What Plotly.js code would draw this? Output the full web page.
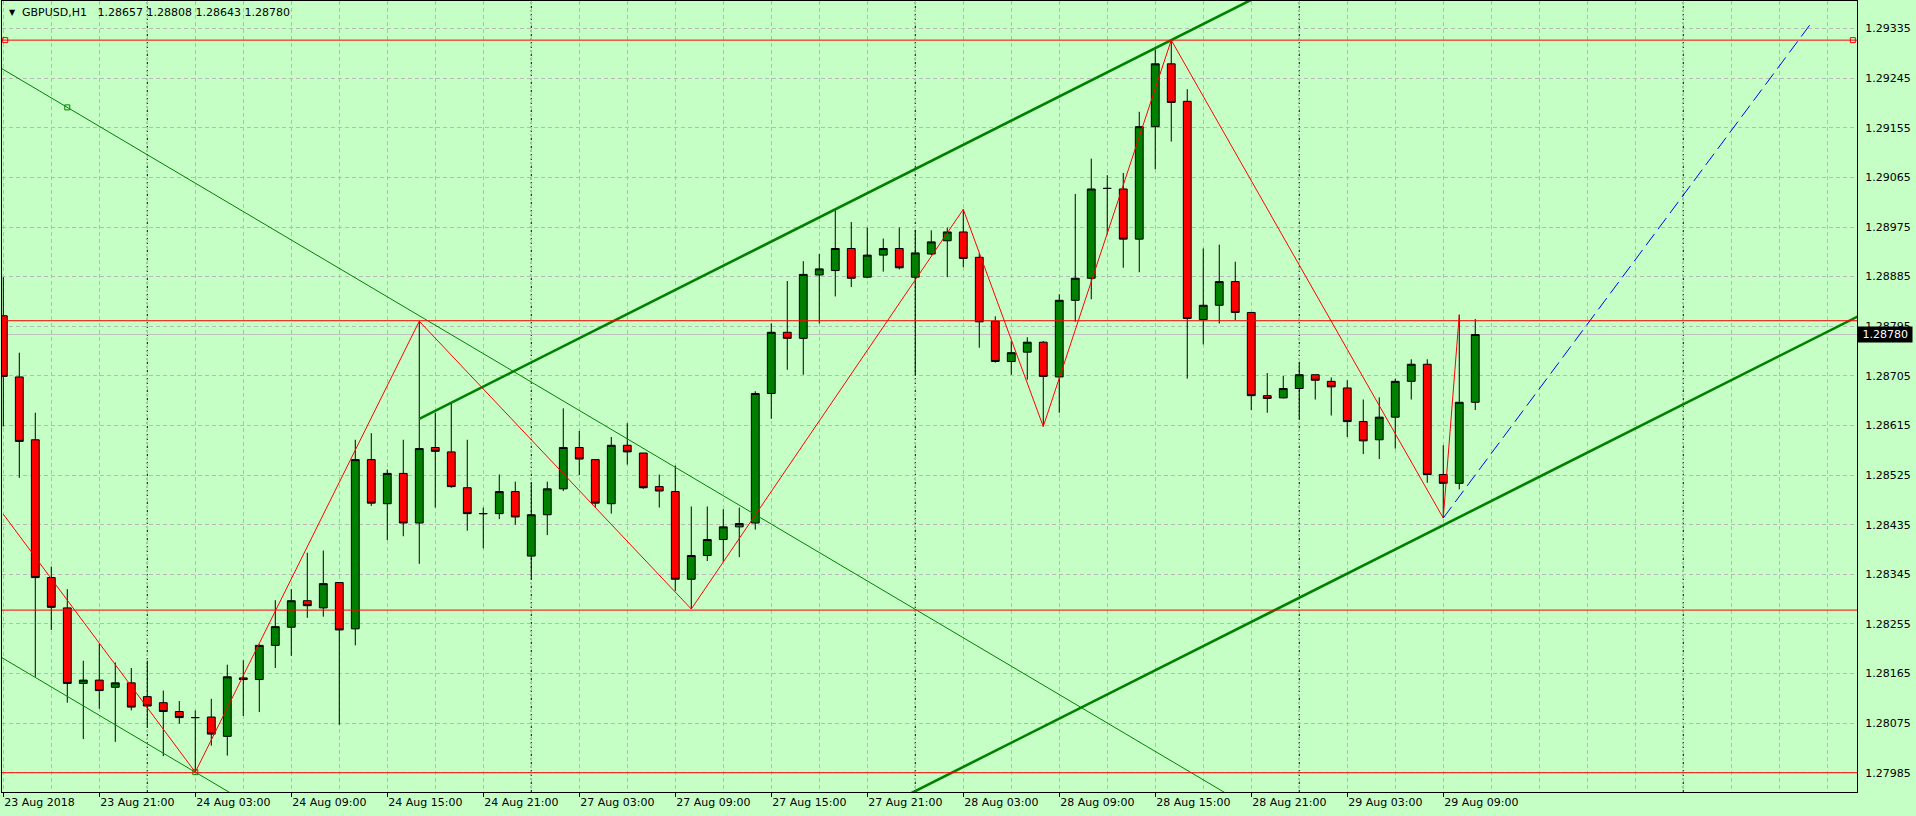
<!DOCTYPE html>
<html>
<head>
<meta charset="utf-8">
<script src="https://cdn.plot.ly/plotly-3.0.1.min.js"></script>
<style>
html,body{margin:0;padding:0;background:#c6ffc6;}
#chart{width:1916px;height:816px;}
</style>
</head>
<body>
<div id="chart"></div>
<script>
// ---- GBPUSD H1 candles (23 Aug 15:00 .. 29 Aug 11:00) ----
const openP = [
1.28814,1.28703,1.28589,1.28339,1.28284,1.28147,1.28153,1.28140,1.28148,1.28123,
1.28112,1.28096,1.28085,1.28086,1.28051,1.28157,1.28154,1.28216,1.28249,1.28297,
1.28284,1.28330,1.28246,1.28553,1.28473,1.28528,1.28438,1.28575,1.28567,1.28502,
1.28455,1.28455,1.28495,1.28378,1.28453,1.28500,1.28575,1.28553,1.28473,1.28579,
1.28565,1.28504,1.28495,1.28336,1.28379,1.28408,1.28431,1.28438,1.28673,1.28784,
1.28773,1.28888,1.28896,1.28936,1.28884,1.28924,1.28936,1.28884,1.28926,1.28950,
1.28966,1.28920,1.28804,1.28731,1.28748,1.28766,1.28703,1.28842,1.28882,1.29045,
1.29044,1.28953,1.29157,1.29271,1.29203,1.28807,1.28833,1.28876,1.28820,1.28669,
1.28665,1.28682,1.28707,1.28695,1.28683,1.28622,1.28589,1.28630,1.28695,1.28726,
1.28526,1.28510,1.28657];
const highP = [
1.28884,1.28747,1.28638,1.28359,1.28318,1.28188,1.28219,1.28185,1.28175,1.28188,
1.28134,1.28115,1.28098,1.28119,1.28181,1.28189,1.28218,1.28298,1.28318,1.28384,
1.28388,1.28330,1.28589,1.28601,1.28535,1.28589,1.28804,1.28638,1.28655,1.28589,
1.28466,1.28526,1.28513,1.28511,1.28513,1.28646,1.28605,1.28553,1.28594,1.28619,
1.28565,1.28526,1.28542,1.28468,1.28468,1.28463,1.28466,1.28677,1.28800,1.28877,
1.28913,1.28926,1.29006,1.28984,1.28974,1.28954,1.28974,1.28970,1.28969,1.28974,
1.29007,1.28928,1.28813,1.28768,1.28775,1.28768,1.28853,1.29035,1.29099,1.29069,
1.29073,1.29184,1.29297,1.29314,1.29225,1.28936,1.28943,1.28912,1.28820,1.28710,
1.28705,1.28729,1.28707,1.28702,1.28697,1.28662,1.28666,1.28700,1.28735,1.28735,
1.28579,1.28816,1.28808];
const lowP = [
1.28613,1.28520,1.28159,1.28244,1.28112,1.28046,1.28101,1.28041,1.28098,1.28069,
1.28015,1.28074,1.27986,1.28034,1.28016,1.28088,1.28095,1.28175,1.28197,1.28266,
1.28268,1.28072,1.28216,1.28469,1.28407,1.28414,1.28364,1.28466,1.28502,1.28424,
1.28392,1.28445,1.28435,1.28336,1.28416,1.28496,1.28525,1.28466,1.28455,1.28544,
1.28500,1.28466,1.28315,1.28282,1.28369,1.28367,1.28376,1.28426,1.28627,1.28716,
1.28707,1.28800,1.28849,1.28866,1.28882,1.28894,1.28898,1.28705,1.28924,1.28884,
1.28902,1.28756,1.28729,1.28707,1.28698,1.28613,1.28638,1.28803,1.28844,1.28962,
1.28901,1.28893,1.29080,1.29130,1.28700,1.28762,1.28800,1.28806,1.28643,1.28638,
1.28664,1.28627,1.28662,1.28633,1.28594,1.28563,1.28554,1.28573,1.28662,1.28511,
1.28447,1.28499,1.28643];
const closeP = [
1.28704,1.28586,1.28339,1.28285,1.28147,1.28153,1.28134,1.28148,1.28104,1.28106,
1.28096,1.28085,1.28085,1.28055,1.28159,1.28154,1.28216,1.28250,1.28297,1.28288,
1.28328,1.28244,1.28553,1.28474,1.28528,1.28438,1.28573,1.28568,1.28504,1.28455,
1.28455,1.28495,1.28449,1.28453,1.28500,1.28575,1.28554,1.28474,1.28579,1.28567,
1.28502,1.28496,1.28336,1.28379,1.28408,1.28431,1.28437,1.28673,1.28784,1.28773,
1.28889,1.28899,1.28936,1.28882,1.28924,1.28936,1.28901,1.28928,1.28948,1.28966,
1.28918,1.28803,1.28731,1.28747,1.28766,1.28704,1.28842,1.28882,1.29044,1.29045,
1.28953,1.29157,1.29271,1.29201,1.28809,1.28833,1.28876,1.28820,1.28669,1.28664,
1.28682,1.28707,1.28697,1.28685,1.28622,1.28587,1.28630,1.28695,1.28726,1.28526,
1.28510,1.28657,1.28780];

// time axis (bar index -> label)
const tickIdx = [0,6,12,18,24,30,36,42,48,54,60,66,72,78,84,90];
const tickText = ["23 Aug 2018","23 Aug 21:00","24 Aug 03:00","24 Aug 09:00","24 Aug 15:00",
  "24 Aug 21:00","27 Aug 03:00","27 Aug 09:00","27 Aug 15:00","27 Aug 21:00","28 Aug 03:00",
  "28 Aug 09:00","28 Aug 15:00","28 Aug 21:00","29 Aug 03:00","29 Aug 09:00"];
const daySeparators = [9,33,57,81,105];
const priceTicks = [1.27985,1.28075,1.28165,1.28255,1.28345,1.28435,1.28525,1.28615,
  1.28705,1.28795,1.28885,1.28975,1.29065,1.29155,1.29245,1.29335];

// drawn objects
const redLevels = [1.29314,1.28805,1.28280,1.27985];
const bidPrice = 1.28780;
const zigX = [0,12,26,43,60,65,73,90,91];
const zigY = [1.28454,1.27986,1.28804,1.28282,1.29007,1.28613,1.29314,1.28447,1.28816];
const thinChanA = [4,1.29192], thinChanB = [26,1.28814], thinChanLow = [12,1.27986];
const thickChanA = [26,1.28627], thickChanB = [73,1.29314], thickChanLow = [90,1.28434];
const blueX = [90,113], blueY = [1.28447,1.29345];

const xRange = [-0.081, 115.86];
const yRange = [1.27950, 1.29385];

const N = openP.length;
const barIdx = Array.from({length:N}, (_, i) => i);

function slopeOf(a, b){ return (b[1]-a[1])/(b[0]-a[0]); }
function ray(p, s, xa, xb){ return {x:[xa,xb], y:[p[1]+s*(xa-p[0]), p[1]+s*(xb-p[0])]}; }

const sThin = slopeOf(thinChanA, thinChanB);
const sThick = slopeOf(thickChanA, thickChanB);
const lThinUp = ray(thinChanA, sThin, -2, 130);
const lThinLo = ray(thinChanLow, sThin, -2, 130);
const lThickUp = ray(thickChanA, sThick, thickChanA[0], 130);
const lThickLo = ray(thickChanLow, sThick, -2, 130);

const GREEN = '#008000', RED = '#ff0000';
const BG = '#c6ffc6';
const GRID = '#b9b9b9';

const traces = [
  {type:'candlestick', x:barIdx, open:openP, high:highP, low:lowP, close:closeP,
   increasing:{fillcolor:GREEN, line:{color:'#000000', width:1}},
   decreasing:{fillcolor:RED, line:{color:'#000000', width:1}},
   whiskerwidth:0, hoverinfo:'skip', showlegend:false},
  {type:'scatter', mode:'lines', x:lThinUp.x, y:lThinUp.y, line:{color:GREEN, width:1}, hoverinfo:'skip'},
  {type:'scatter', mode:'lines', x:lThinLo.x, y:lThinLo.y, line:{color:GREEN, width:1}, hoverinfo:'skip'},
  {type:'scatter', mode:'lines', x:lThickUp.x, y:lThickUp.y, line:{color:GREEN, width:2.6}, hoverinfo:'skip'},
  {type:'scatter', mode:'lines', x:lThickLo.x, y:lThickLo.y, line:{color:GREEN, width:2.6}, hoverinfo:'skip'},
  {type:'scatter', mode:'lines', x:zigX, y:zigY, line:{color:RED, width:1}, hoverinfo:'skip'},
  {type:'scatter', mode:'lines', x:blueX, y:blueY, line:{color:'#0000ff', width:1, dash:'14px,6px'}, hoverinfo:'skip'},
  {type:'scatter', mode:'markers', x:[thinChanA[0], thinChanLow[0]], y:[thinChanA[1], thinChanLow[1]],
   marker:{symbol:'square-open', size:5, color:GREEN, line:{width:1, color:GREEN}}, hoverinfo:'skip'},
  {type:'scatter', mode:'markers', x:[0.12, 115.6], y:[redLevels[0], redLevels[0]],
   marker:{symbol:'square-open', size:5, color:RED, line:{width:1, color:RED}}, hoverinfo:'skip'}
];

const shapes = [];
daySeparators.forEach(d => shapes.push({type:'line', xref:'x', yref:'paper', x0:d, x1:d, y0:0, y1:1,
  layer:'below', line:{color:'#000000', width:1, dash:'2px,2px'}}));
shapes.push({type:'line', xref:'paper', yref:'y', x0:0, x1:1, y0:bidPrice, y1:bidPrice,
  layer:'below', line:{color:'#c0c0c0', width:1}});
redLevels.forEach(v => shapes.push({type:'line', xref:'paper', yref:'y', x0:0, x1:1, y0:v, y1:v,
  layer:'above', line:{color:RED, width:1}}));

const FONT = 'DejaVu Sans, Liberation Sans, sans-serif';
const layout = {
  width:1916, height:816,
  margin:{l:2, r:59, t:1, b:24, pad:0},
  paper_bgcolor:BG, plot_bgcolor:BG,
  showlegend:false, hovermode:false, boxgap:0.3,
  font:{family:FONT, size:11, color:'#000000'},
  xaxis:{type:'linear', range:xRange, fixedrange:true, rangeslider:{visible:false},
    tickmode:'array', tickvals:tickIdx, ticktext:tickText,
    ticks:'outside', ticklen:4, tickwidth:1, tickcolor:'#000000',
    ticklabelposition:'outside right',
    showgrid:true, gridcolor:GRID, griddash:'4px,3px', gridwidth:1,
    minor:{tickmode:'linear', tick0:0, dtick:3, showgrid:true, gridcolor:GRID, griddash:'4px,3px', ticklen:0},
    showline:true, linecolor:'#000000', linewidth:1, mirror:true, zeroline:false,
    tickfont:{family:FONT, size:11, color:'#000000'}},
  yaxis:{range:yRange, fixedrange:true, side:'right',
    tickmode:'array', tickvals:priceTicks, tickformat:'.5f',
    ticks:'', ticklabelstandoff:5,
    showgrid:true, gridcolor:GRID, griddash:'4px,3px', gridwidth:1,
    showline:true, linecolor:'#000000', linewidth:1, mirror:true, zeroline:false,
    tickfont:{family:FONT, size:11, color:'#000000'}},
  shapes:shapes,
  annotations:[
    {xref:'paper', yref:'paper', x:(7-2)/1855, y:1-(12.5-1)/791, xanchor:'left', yanchor:'middle',
     text:'\u25BC', showarrow:false, font:{family:FONT, size:8, color:'#000000'}},
    {xref:'paper', yref:'paper', x:(20-2)/1855, y:1-(12.5-1)/791, xanchor:'left', yanchor:'middle',
     text:'GBPUSD,H1\u00a0\u00a0 ' + [openP[N-1], highP[N-1], lowP[N-1], closeP[N-1]].map(v=>v.toFixed(5)).join(' '),
     showarrow:false, font:{family:FONT, size:11, color:'#000000'}},
    {xref:'paper', yref:'y', x:1, y:bidPrice, xanchor:'left', yanchor:'middle',
     text:'\u00a0' + bidPrice.toFixed(5) + '\u00a0', showarrow:false, bgcolor:'#000000', borderpad:1,
     font:{family:FONT, size:11, color:'#ffffff'}}
  ]
};

Plotly.newPlot('chart', traces, layout, {displayModeBar:false, staticPlot:true});
</script>
</body>
</html>
